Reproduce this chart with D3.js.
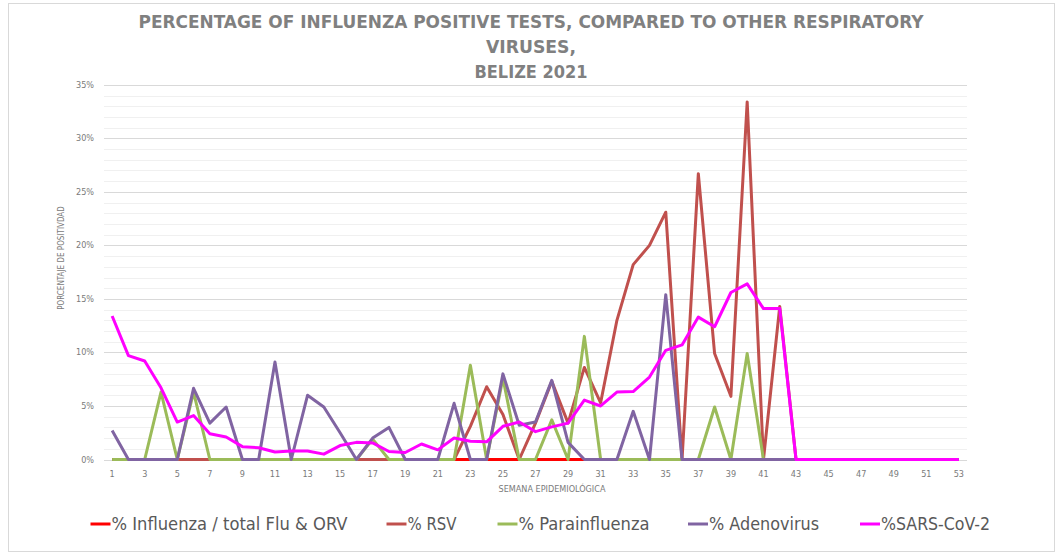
<!DOCTYPE html>
<html>
<head>
<meta charset="utf-8">
<script src="https://cdn.jsdelivr.net/npm/d3@7"></script>
<style>
  html, body { margin: 0; padding: 0; background: #ffffff; }
  svg { display: block; }
  .tick-label { font-family: "Liberation Sans Narrow", "DejaVu Sans Condensed", "Liberation Sans", sans-serif; font-size: 9px; fill: #7a7a7a; }
</style>
</head>
<body>
<svg id="chart" width="1061" height="556"></svg>
<script>
// epidemiological weeks 1..53
var weeks = d3.range(1, 54);
var xTickWeeks = weeks.filter(function (w) { return w % 2 === 1; });
var yTicks = [0, 5, 10, 15, 20, 25, 30, 35];
var yMinor = d3.range(0, 36);

var influenza = [0, 0, 0, 0, 0, 0, 0, 0, 0, 0, 0, 0, 0, 0, 0, 0, 0, 0, 0, 0, 0, 0, 0, 0, 0, 0,
    0, 0, 0, 0, 0, 0, 0, 0, 0, 0, 0, 0, 0, 0, 0, 0, 0, 0, 0, 0, 0, 0, 0, 0, 0, 0, 0];
var rsv = [0, 0, 0, 0, 0, 0, 0, 0, 0, 0, 0, 0, 0, 0, 0, 0, 0, 0, 0, 0, 0, 0, 3.1, 6.8, 4.2, 0,
    3.4, 7.3, 3.4, 8.6, 5.3, 13.0, 18.2, 20.0, 23.1, 0, 26.7, 9.9, 5.9, 33.4, 0, 14.3, 0,
    0, 0, 0, 0, 0, 0, 0, 0, 0, 0];
var parainfluenza = [0, 0, 0, 6.3, 0, 6.3, 0, 0, 0, 0, 0, 0, 0, 0, 0, 0, 1.9, 0, 0, 0, 0, 0, 8.8, 0, 7.6, 0,
    0, 3.7, 0, 11.5, 0, 0, 0, 0, 0, 0, 0, 4.9, 0, 9.9, 0, 0, 0,
    0, 0, 0, 0, 0, 0, 0, 0, 0, 0];
var adenovirus = [2.7, 0, 0, 0, 0, 6.65, 3.4, 4.9, 0, 0, 9.1, 0, 6.0, 4.9, 2.5, 0, 2.0, 3.0, 0, 0, 0, 5.25, 0, 0, 8.0, 3.2,
    3.5, 7.4, 1.6, 0, 0, 0, 4.5, 0, 15.4, 0, 0, 0, 0, 0, 0, 0, 0,
    0, 0, 0, 0, 0, 0, 0, 0, 0, 0];
var sarsCov2 = [13.4, 9.7, 9.2, 6.7, 3.5, 4.1, 2.4, 2.1, 1.2, 1.1, 0.7, 0.8, 0.8, 0.5, 1.3, 1.6, 1.55, 0.75, 0.65, 1.45, 0.9, 2.0, 1.7, 1.65, 3.1, 3.5,
    2.6, 3.05, 3.4, 5.55, 5.0, 6.3, 6.35, 7.7, 10.2, 10.7, 13.3, 12.4, 15.6, 16.4, 14.1, 14.1, 0,
    0, 0, 0, 0, 0, 0, 0, 0, 0, 0];

var seriesNames = ['% Influenza / total Flu & ORV', '% RSV', '% Parainfluenza', '% Adenovirus', '%SARS-CoV-2'];
var seriesValues = [influenza, rsv, parainfluenza, adenovirus, sarsCov2];
var seriesColors = ['#ff0000', '#c0504d', '#9bbb59', '#8064a2', '#ff00ff'];

var svg = d3.select('#chart');

// chart frame
svg.append('rect')
    .attr('x', 8.5).attr('y', 3.5)
    .attr('width', 1046).attr('height', 548)
    .attr('fill', 'none')
    .attr('stroke', '#d9d9d9');

// scales
var x = d3.scaleBand().domain(weeks).range([104, 967]);
var xc = function (w) { return x(w) + x.bandwidth() / 2; };
var y = d3.scaleLinear().domain([0, 35]).range([459.5, 84.8]);

// minor + major gridlines
svg.append('g').selectAll('line')
    .data(yMinor.filter(function (v) { return v % 5 !== 0; }))
    .join('line')
    .attr('x1', 104).attr('x2', 967)
    .attr('y1', function (d) { return Math.round(y(d)) + 0.5; })
    .attr('y2', function (d) { return Math.round(y(d)) + 0.5; })
    .attr('stroke', '#f0f0f0');

svg.append('g').selectAll('line')
    .data(yTicks)
    .join('line')
    .attr('x1', 104).attr('x2', 967)
    .attr('y1', function (d) { return Math.round(y(d)) + 0.5; })
    .attr('y2', function (d) { return Math.round(y(d)) + 0.5; })
    .attr('stroke', '#d9d9d9');

// y tick labels
svg.append('g').selectAll('text')
    .data(yTicks)
    .join('text')
    .attr('class', 'tick-label')
    .attr('x', 94)
    .attr('y', function (d) { return y(d) + 3; })
    .attr('text-anchor', 'end')
    .text(function (d) { return d + '%'; });

// x tick labels
svg.append('g').selectAll('text')
    .data(xTickWeeks)
    .join('text')
    .attr('class', 'tick-label')
    .attr('x', xc)
    .attr('y', 477)
    .attr('text-anchor', 'middle')
    .text(function (d) { return d; });

// axis titles
svg.append('text')
    .attr('class', 'tick-label')
    .attr('transform', 'translate(64,258) rotate(-90)')
    .attr('text-anchor', 'middle')
    .style('font-size', '8px')
    .text('PORCENTAJE DE POSITIVDAD');

svg.append('text')
    .attr('class', 'tick-label')
    .attr('x', 552).attr('y', 492)
    .attr('text-anchor', 'middle')
    .text('SEMANA EPIDEMIOLÓGICA');

// title
var titleLines = [
    {t: 'PERCENTAGE OF INFLUENZA POSITIVE TESTS, COMPARED TO OTHER RESPIRATORY', w: 785},
    {t: 'VIRUSES,', w: 90},
    {t: 'BELIZE 2021', w: 113}
];
svg.append('g').selectAll('text')
    .data(titleLines)
    .join('text')
    .attr('x', 531)
    .attr('y', function (d, i) { return 28 + i * 25; })
    .attr('text-anchor', 'middle')
    .attr('textLength', function (d) { return d.w; })
    .attr('lengthAdjust', 'spacingAndGlyphs')
    .style('font-family', '"Liberation Sans Narrow", "DejaVu Sans Condensed", "Liberation Sans", sans-serif')
    .style('font-weight', 'bold')
    .style('font-size', '17px')
    .style('fill', '#808080')
    .text(function (d) { return d.t; });

// series lines
var line = d3.line()
    .x(function (d, i) { return xc(weeks[i]); })
    .y(function (d) { return y(d); });

svg.append('g').selectAll('path')
    .data(seriesValues)
    .join('path')
    .attr('d', line)
    .attr('fill', 'none')
    .attr('stroke', function (d, i) { return seriesColors[i]; })
    .attr('stroke-width', 3)
    .attr('stroke-linejoin', 'round');

// legend
var legendX = [90.5, 386.5, 497.5, 688, 860];
var legendW = [236, 49, 131, 110, 109];
var legend = svg.append('g').selectAll('g')
    .data(seriesNames)
    .join('g')
    .attr('transform', function (d, i) { return 'translate(' + legendX[i] + ',524)'; });

legend.append('line')
    .attr('x1', 0).attr('x2', 20)
    .attr('stroke', function (d, i) { return seriesColors[i]; })
    .attr('stroke-width', 3);

legend.append('text')
    .attr('x', 21)
    .attr('y', 6)
    .attr('textLength', function (d, i) { return legendW[i]; })
    .attr('lengthAdjust', 'spacingAndGlyphs')
    .style('font-family', '"Liberation Sans Narrow", "DejaVu Sans Condensed", "Liberation Sans", sans-serif')
    .style('font-size', '17px')
    .style('fill', '#595959')
    .text(function (d) { return d; });
</script>
</body>
</html>
